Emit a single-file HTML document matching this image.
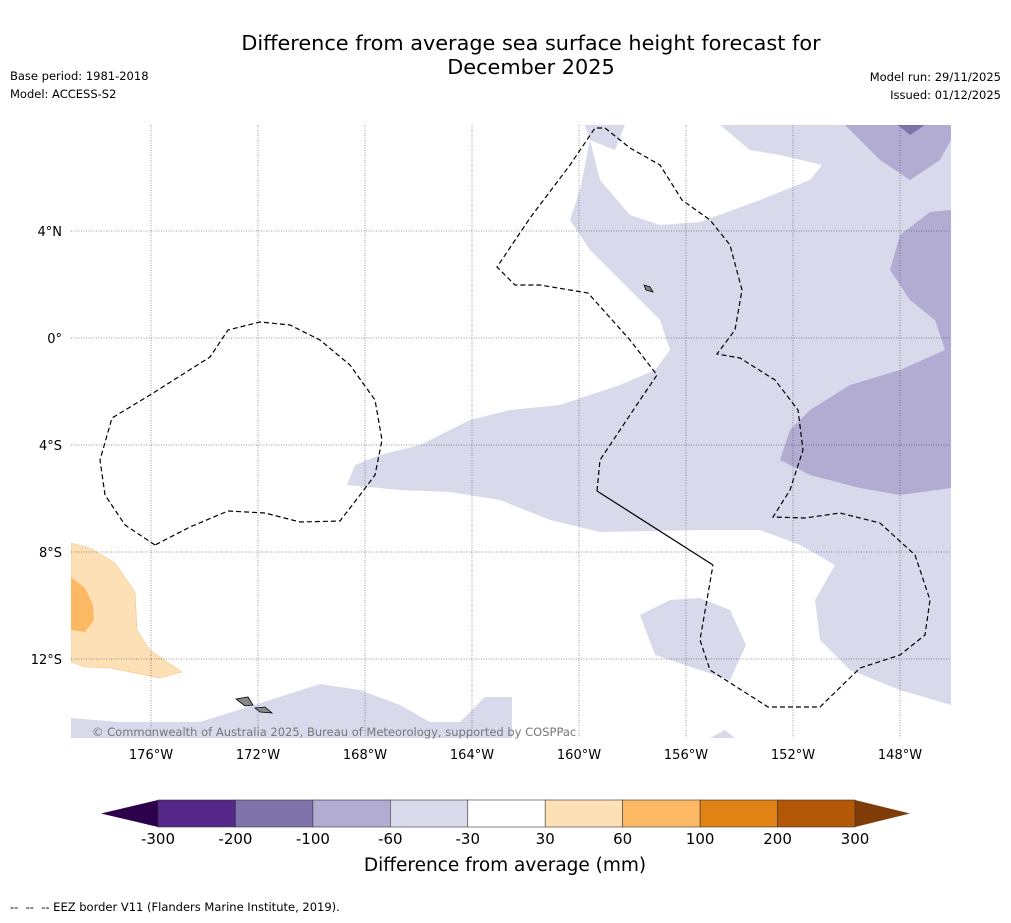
<!DOCTYPE html>
<html><head><meta charset="utf-8">
<style>
body{margin:0;background:#fff;font-family:"DejaVu Sans","Liberation Sans",sans-serif;}
svg text{font-family:"DejaVu Sans","Liberation Sans",sans-serif;}
</style></head>
<body>
<svg width="1011" height="919" xmlns="http://www.w3.org/2000/svg">
<text x="531" y="50" font-size="20.8" text-anchor="middle">Difference from average sea surface height forecast for</text>
<text x="531" y="74" font-size="20.8" text-anchor="middle">December 2025</text>
<text x="10" y="80" font-size="11.5">Base period: 1981-2018</text>
<text x="10" y="98" font-size="11.5">Model: ACCESS-S2</text>
<text x="1001" y="81" font-size="11.5" text-anchor="end">Model run: 29/11/2025</text>
<text x="1001" y="99" font-size="11.5" text-anchor="end">Issued: 01/12/2025</text>

<defs><clipPath id="mc"><rect x="71" y="125" width="880" height="613"/></clipPath></defs>
<g clip-path="url(#mc)">
<rect x="71" y="125" width="880" height="613" fill="#fff"/>
<polygon fill="#d8daeb" points="590,140 600,180 630,215 660,225 700,222 760,200 810,180 822,165 780,155 750,150 720,125 951,125 951,705 900,690 850,670 820,640 815,600 835,565 800,545 760,530 700,530 600,532 550,520 500,500 450,492 400,490 347,485 355,465 380,455 420,445 470,420 510,410 560,405 620,385 655,370 670,350 660,320 620,280 590,250 570,220 580,190"/>
<polygon fill="#d8daeb" points="585,125 625,125 615,150 590,140"/>
<polygon fill="#b2abd2" points="845,125 951,125 951,140 940,160 910,180 880,160"/>
<polygon fill="#8073ac" points="898,125 925,125 910,135"/>
<polygon fill="#b2abd2" points="951,210 930,212 900,235 890,270 910,300 935,320 945,350 900,370 850,385 810,410 790,430 780,460 810,475 860,488 900,495 951,488"/>
<polygon fill="#d8daeb" points="640,615 670,600 700,598 730,610 746,645 730,680 700,670 655,655"/>
<polygon fill="#d8daeb" points="71,718 120,722 200,722 270,700 320,684 360,690 400,705 430,722 460,722 485,697 512,697 512,738 71,738"/>
<polygon fill="#d8daeb" points="710,738 725,730 735,738"/>
<polygon fill="#fee0b6" stroke="#f0c080" stroke-width="0.5" points="71,543 90,548 115,563 135,592 137,630 150,650 182,672 160,678 110,668 85,667 71,662"/>
<polygon fill="#fdb863" points="71,577 85,588 93,605 94,620 85,632 71,630"/>
<g id="grid" stroke="#333" stroke-width="0.5" stroke-dasharray="1,1.5"></g>
<polyline fill="none" stroke="#000" stroke-width="1.2" stroke-dasharray="5,3" points="155,545 125,525 105,495 100,460 112,418 150,395 210,357 228,330 260,322 290,325 320,340 350,365 375,400 382,440 375,475 360,495 340,521 300,522 265,513 228,511 190,527 155,545"/>
<polyline fill="none" stroke="#000" stroke-width="1.2" stroke-dasharray="5,3" points="597,491 600,460 620,430 640,400 657,375 630,340 588,293 540,285 515,285 497,267 530,218 570,165 595,128 605,128 630,148 660,165 682,200 710,220 730,245 742,290 735,330 717,354 740,358 775,380 798,410 803,450 790,490 773,517 805,518 840,513 880,523 915,555 930,600 925,635 900,655 860,668 820,707 768,707 710,670 700,640 713,565"/>
<polyline fill="none" stroke="#000" stroke-width="1.2" points="597,491 713,565"/>
<polygon fill="#888" stroke="#000" stroke-width="0.8" points="236,699 248,697 253,705 245,706"/>
<polygon fill="#888" stroke="#000" stroke-width="0.8" points="255,708 265,707 272,713 260,712"/>
<polygon fill="#888" stroke="#000" stroke-width="0.8" points="644,285 650,287 653,292 646,290"/>
</g>
<text x="92" y="736" font-size="11.5" fill="#777">© Commonwealth of Australia 2025, Bureau of Meteorology, supported by COSPPac</text>
<g id="ticks"></g>
<g id="cbar"></g>
<text x="505" y="871" font-size="18.5" text-anchor="middle">Difference from average (mm)</text>
<text x="10" y="911" font-size="11.5">--&#160;&#160;--&#160;&#160;-- EEZ border V11 (Flanders Marine Institute, 2019).</text>
</svg>
<script>
const lonTicks=[-176,-172,-168,-164,-160,-156,-152,-148];
const lonLabels=["176°W","172°W","168°W","164°W","160°W","156°W","152°W","148°W"];
const latTicks=[4,0,-4,-8,-12];
const latLabels=["4°N","0°","4°S","8°S","12°S"];
const cbLevels=["-300","-200","-100","-60","-30","30","60","100","200","300"];
const cbColors=["#542788","#8073ac","#b2abd2","#d8daeb","#ffffff","#fee0b6","#fdb863","#e08214","#b35806"];
const ns="http://www.w3.org/2000/svg";
const xLon=l=>151+(l+176)*26.75;
const yLat=l=>338-l*26.75;
const grid=document.getElementById('grid'),ticks=document.getElementById('ticks'),cb=document.getElementById('cbar');
function mk(t,a,p){const e=document.createElementNS(ns,t);for(const k in a)e.setAttribute(k,a[k]);p.appendChild(e);return e;}
lonTicks.forEach((l,i)=>{const x=xLon(l);
const g=mk('line',{x1:x,x2:x,y1:125,y2:738},grid);


const t=mk('text',{x:x,y:759,'font-size':13,'text-anchor':'middle'},ticks);t.textContent=lonLabels[i];

});
latTicks.forEach((l,i)=>{const y=yLat(l);
const g=mk('line',{x1:71,x2:951,y1:y,y2:y},grid);


const t=mk('text',{x:62,y:y+5,'font-size':13,'text-anchor':'end'},ticks);t.textContent=latLabels[i];

});
const x0=158,x1=855,w=(x1-x0)/cbColors.length,yt=800,h=27;
const lo=mk('polygon',{points:`${x0},${yt} ${x0},${yt+h} 101,${yt+h/2}`,fill:'#2d004b'},cb);


const hi=mk('polygon',{points:`${x1},${yt} ${x1},${yt+h} 910,${yt+h/2}`,fill:'#7f3b08'},cb);


cbColors.forEach((c,i)=>{const r=mk('rect',{x:x0+i*w,y:yt,width:w,height:h,fill:c,stroke:'#333','stroke-width':0.6},cb);

});
cbLevels.forEach((v,i)=>{const t=mk('text',{x:x0+i*w,y:844,'font-size':15,'text-anchor':'middle'},cb);t.textContent=v;

});
</script>
</body></html>
